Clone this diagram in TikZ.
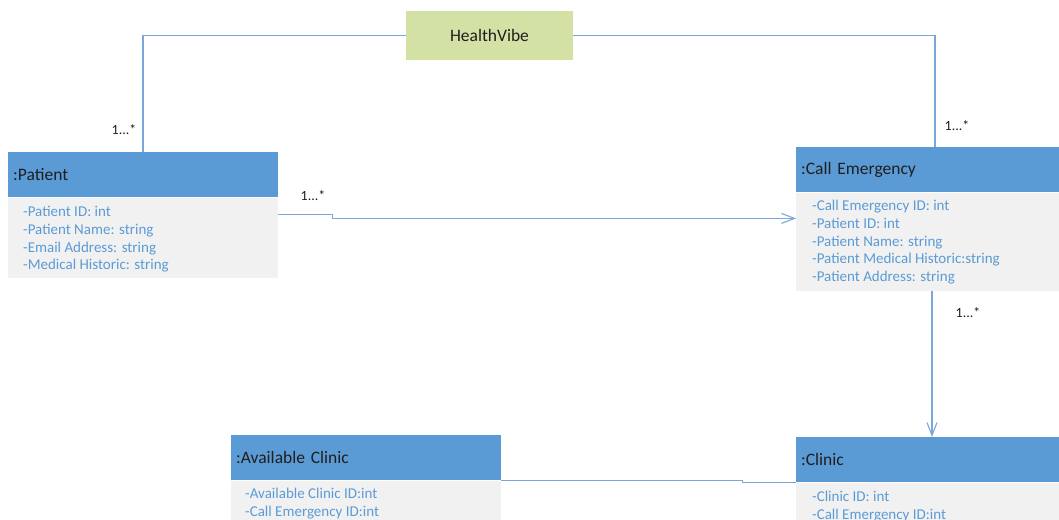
\documentclass[tikz,border=0pt]{standalone}
\usepackage{fontspec}
\setmainfont{Carlito}
\usetikzlibrary{arrows.meta}
\definecolor{hdr}{HTML}{5B9BD5}
\definecolor{bodyfill}{HTML}{F1F1F1}
\definecolor{attr}{HTML}{5B9BD5}
\definecolor{link}{HTML}{7AA6DA}
\definecolor{brand}{HTML}{D4E1A5}
\definecolor{ink}{HTML}{1E1E1E}
\begin{document}
\begin{tikzpicture}[x=1pt,y=-1pt,
  hdrbox/.style={fill=hdr, anchor=north west, inner xsep=5pt, inner ysep=0pt,
    minimum height=45pt, text width=#1-10pt, align=left, text=ink,
    font=\fontsize{17.5}{20}\selectfont},
  bodybox/.style={fill=bodyfill, anchor=north west, inner sep=0pt,
    minimum width=#1, minimum height=100pt},
  attrs/.style={anchor=north west, inner sep=0pt, align=left, text=attr,
    font=\fontsize{15}{17.8}\selectfont},
  mult/.style={inner sep=0pt, text=ink, font=\fontsize{14}{16}\selectfont},
  link/.style={draw=link, line width=1.2pt},
  arr/.style={-{Straight Barb[length=13pt,width=10pt,line width=1.1pt]}}
]
\useasboundingbox (0,0) rectangle (1059,519);
\clip (0,0) rectangle (1059,519);

% system box
\node[fill=brand, minimum width=167pt, minimum height=49pt, inner sep=0pt,
  text=ink, font=\fontsize{17.5}{20}\selectfont] (hv) at (489.5,35.5) {HealthVibe};

% Patient
\node[hdrbox=270pt] (pat) at (8,152) {:Patient};
\node[bodybox=270pt, minimum height=80pt] (patb) at (pat.south west) {};
\node[attrs] (patl) at ([xshift=15pt,yshift=-8.5pt]patb.north west)
  {-Patient ID: int\\-Patient Name: string\\-Email Address: string\\-Medical Historic: string};

% Call Emergency
\node[hdrbox=263pt] (ce) at (796,147) {:Call Emergency};
\node[bodybox=263pt, minimum height=98pt] (ceb) at (ce.south west) {};
\node[attrs] (cel) at ([xshift=16pt,yshift=-7.5pt]ceb.north west)
  {-Call Emergency ID: int\\-Patient ID: int\\-Patient Name: string\\-Patient Medical Historic:string\\-Patient Address: string};

% Available Clinic
\node[hdrbox=270pt] (ac) at (231,435) {:Available Clinic};
\node[bodybox=270pt] (acb) at (ac.south west) {};
\node[attrs] (acl) at ([xshift=14pt,yshift=-7.5pt]acb.north west)
  {-Available Clinic ID:int\\-Call Emergency ID:int};

% Clinic
\node[hdrbox=263pt] (cl) at (796,437) {:Clinic};
\node[bodybox=263pt] (clb) at (cl.south west) {};
\node[attrs] (cll) at ([xshift=16pt,yshift=-8.5pt]clb.north west)
  {-Clinic ID: int\\-Call Emergency ID:int};

% associations
\draw[link] (hv.west) -| ([xshift=135pt]pat.north west);
\draw[link] (hv.east) -| ([xshift=139pt]ce.north west);
\draw[link, arr] ([yshift=-17pt]patb.north east) -- ++(54,0) |- ([yshift=-26pt]ceb.north west);
\draw[link, arr] ([xshift=136pt]ceb.south west) -- ([xshift=136pt]cl.north west);
\draw[link] (ac.south east) -- ++(241,0) |- (clb.north west);

% multiplicities
\node[mult] (m1) at (124,130) {1...*};
\node[mult] (m2) at (957,126) {1...*};
\node[mult] (m3) at (313,196) {1...*};
\node[mult] (m4) at (968,313) {1...*};
\end{tikzpicture}
\end{document}
